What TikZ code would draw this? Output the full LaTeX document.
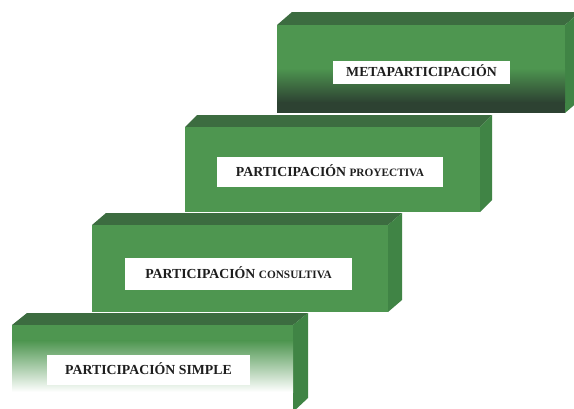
\documentclass[tikz,border=0pt]{standalone}
\usepackage{fontspec}
\setmainfont{Liberation Serif}
\definecolor{frontgreen}{RGB}{78,150,80}
\definecolor{topgreen}{RGB}{60,108,64}
\definecolor{sidegreen}{RGB}{64,132,69}
\definecolor{darkgreen}{RGB}{45,66,50}
\definecolor{labeltext}{RGB}{30,30,30}
\tikzset{
  frontface/.style={fill=frontgreen},
  topface/.style={fill=topgreen},
  sideface/.style={fill=sidegreen},
  labelbox/.style={fill=white, inner sep=0pt, text=labeltext, font=\bfseries\fontsize{13.8}{14}\selectfont, text height=9pt, text depth=0pt, align=center}
}
\newcommand{\smallcaps}[1]{{\fontsize{11.3}{12}\selectfont #1}}
\begin{document}
\begin{tikzpicture}[x=1pt,y=-1pt]
\useasboundingbox (0,0) rectangle (574,408);
\clip (0,0) rectangle (574,408);
\fill[white] (0,0) rectangle (574,408);
% ---- box 1 (top) ----
\fill[topface] (277,25) -- (292,12) -- (580,12) -- (565,25) -- cycle;
\fill[sideface] (565,25) -- (580,12) -- (580,100) -- (565,113) -- cycle;
\fill[frontface] (277,25) rectangle (565,113);
\shade[top color=frontgreen, bottom color=darkgreen] (277,68) rectangle (565,102.5);
\fill[darkgreen] (277,102) rectangle (565,113);
% ---- box 2 ----
\fill[topface] (185,127) -- (197,115) -- (492,115) -- (480,127) -- cycle;
\fill[sideface] (480,127) -- (492,115) -- (492,200) -- (480,212) -- cycle;
\fill[frontface] (185,127) rectangle (480,212);
% ---- box 3 ----
\fill[topface] (92,225) -- (106,213) -- (402,213) -- (388,225) -- cycle;
\fill[sideface] (388,225) -- (402,213) -- (402,300) -- (388,312) -- cycle;
\fill[frontface] (92,225) rectangle (388,312);
% ---- box 4 (bottom) ----
\fill[topface] (12,325) -- (27,313) -- (308,313) -- (293,325) -- cycle;
\fill[sideface] (293,325) -- (308,313) -- (308,398) -- (293,412) -- cycle;
\fill[frontface] (12,325) rectangle (293,341);
\shade[top color=frontgreen, bottom color=white] (12,340.5) rectangle (293,392);
\fill[white] (12,391.5) rectangle (293,412);
% ---- labels ----
\node[labelbox, minimum width=177pt, minimum height=23pt] (meta) at (421.5,72) {METAPARTICIPACIÓN};
\node[labelbox, minimum width=226pt, minimum height=30pt] (proy) at (330,172) {PARTICIPACIÓN \smallcaps{PROYECTIVA}};
\node[labelbox, minimum width=227pt, minimum height=32pt] (cons) at (238.5,274) {PARTICIPACIÓN \smallcaps{CONSULTIVA}};
\node[labelbox, minimum width=203pt, minimum height=30pt] (simp) at (148.5,370) {PARTICIPACIÓN SIMPLE};
\end{tikzpicture}
\end{document}
